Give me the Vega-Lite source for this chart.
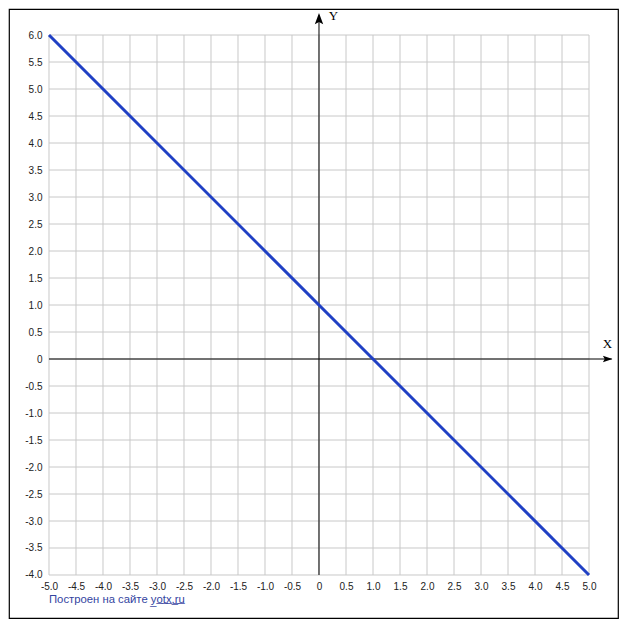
{
  "$schema": "https://vega.github.io/schema/vega-lite/v6.json",
  "width": 609,
  "height": 609,
  "autosize": {"type": "none"},
  "padding": {"left": 9, "top": 9, "right": 9, "bottom": 12},
  "background": "white",
  "config": {
    "view": {"stroke": "black", "strokeWidth": 1.2},
    "axis": {"labelFont": "Liberation Sans", "labelFontSize": 10, "labelColor": "#222222", "domain": false, "ticks": false, "grid": false, "title": null, "labelOverlap": false, "labelFlush": false}
  },
  "title": {
    "text": "Построен на сайте y̲o̲t̲x̲.̲r̲u̲",
    "orient": "bottom",
    "anchor": "start",
    "frame": "group",
    "offset": -24,
    "dx": 40,
    "font": "Liberation Sans",
    "fontSize": 11.3,
    "fontWeight": "normal",
    "color": "#33449f"
  },
  "datasets": {
    "xgrid": [{"v": -5}, {"v": -4.5}, {"v": -4}, {"v": -3.5}, {"v": -3}, {"v": -2.5}, {"v": -2}, {"v": -1.5}, {"v": -1}, {"v": -0.5}, {"v": 0}, {"v": 0.5}, {"v": 1}, {"v": 1.5}, {"v": 2}, {"v": 2.5}, {"v": 3}, {"v": 3.5}, {"v": 4}, {"v": 4.5}, {"v": 5}],
    "ygrid": [{"v": -4}, {"v": -3.5}, {"v": -3}, {"v": -2.5}, {"v": -2}, {"v": -1.5}, {"v": -1}, {"v": -0.5}, {"v": 0}, {"v": 0.5}, {"v": 1}, {"v": 1.5}, {"v": 2}, {"v": 2.5}, {"v": 3}, {"v": 3.5}, {"v": 4}, {"v": 4.5}, {"v": 5}, {"v": 5.5}, {"v": 6}],
    "line": [{"x": -5, "y": 6}, {"x": 5, "y": -4}],
    "axislabels": [{"x": 0.269, "y": 6.352, "t": "Y"}, {"x": 5.343, "y": 0.269, "t": "X"}],
    "one": [{}]
  },
  "encoding": {
    "x": {"type": "quantitative", "scale": {"domain": [-5.7407, 5.537], "nice": false, "zero": false},
      "axis": {"orient": "bottom", "offset": -43, "labelPadding": 6, "labelOverlap": false, "values": [-5, -4.5, -4, -3.5, -3, -2.5, -2, -1.5, -1, -0.5, 0, 0.5, 1, 1.5, 2, 2.5, 3, 3.5, 4, 4.5, 5], "labelExpr": "datum.value == 0 ? '0' : (datum.value < 0 ? '-' + format(-datum.value, '.1f') : format(datum.value, '.1f'))"}},
    "y": {"type": "quantitative", "scale": {"domain": [-4.7963, 6.4815], "nice": false, "zero": false},
      "axis": {"orient": "left", "offset": -40, "labelPadding": 7, "labelOverlap": false, "labelBaseline": "middle", "values": [-4, -3.5, -3, -2.5, -2, -1.5, -1, -0.5, 0, 0.5, 1, 1.5, 2, 2.5, 3, 3.5, 4, 4.5, 5, 5.5, 6], "labelExpr": "datum.value == 0 ? '0' : (datum.value < 0 ? '-' + format(-datum.value, '.1f') : format(datum.value, '.1f'))"}}
  },
  "layer": [
    {
      "data": {"name": "xgrid"},
      "mark": {"type": "rule", "color": "#c8c8c8", "strokeWidth": 1},
      "encoding": {
        "x": {"field": "v", "type": "quantitative"},
        "y": {"datum": -4, "type": "quantitative"},
        "y2": {"datum": 6}
      }
    },
    {
      "data": {"name": "ygrid"},
      "mark": {"type": "rule", "color": "#c8c8c8", "strokeWidth": 1},
      "encoding": {
        "y": {"field": "v", "type": "quantitative"},
        "x": {"datum": -5, "type": "quantitative"},
        "x2": {"datum": 5}
      }
    },
    {
      "data": {"name": "one"},
      "mark": {"type": "rule", "color": "black", "strokeWidth": 1},
      "encoding": {
        "y": {"datum": 0, "type": "quantitative"},
        "x": {"datum": -5, "type": "quantitative"},
        "x2": {"datum": 5.42}
      }
    },
    {
      "data": {"name": "one"},
      "mark": {"type": "rule", "color": "black", "strokeWidth": 1},
      "encoding": {
        "x": {"datum": 0, "type": "quantitative"},
        "y": {"datum": -4, "type": "quantitative"},
        "y2": {"datum": 6.36}
      }
    },
    {
      "data": {"name": "one"},
      "mark": {"type": "point", "shape": "M0,-1L0.6,0.6L0,0.3L-0.6,0.6Z", "filled": true, "color": "black", "opacity": 1, "size": 196, "strokeWidth": 0},
      "encoding": {
        "x": {"datum": 0, "type": "quantitative"},
        "y": {"datum": 6.278, "type": "quantitative"}
      }
    },
    {
      "data": {"name": "one"},
      "mark": {"type": "point", "shape": "M1,0L-0.6,0.55L-0.3,0L-0.6,-0.55Z", "filled": true, "color": "black", "opacity": 1, "size": 144, "strokeWidth": 0},
      "encoding": {
        "x": {"datum": 5.324, "type": "quantitative"},
        "y": {"datum": 0, "type": "quantitative"}
      }
    },
    {
      "data": {"name": "line"},
      "mark": {"type": "line", "color": "#2040c4", "strokeWidth": 3},
      "encoding": {
        "x": {"field": "x", "type": "quantitative"},
        "y": {"field": "y", "type": "quantitative"}
      }
    },
    {
      "data": {"name": "axislabels"},
      "mark": {"type": "text", "font": "Liberation Serif", "fontSize": 13, "color": "black", "align": "center", "baseline": "middle"},
      "encoding": {
        "x": {"field": "x", "type": "quantitative"},
        "y": {"field": "y", "type": "quantitative"},
        "text": {"field": "t"}
      }
    }
  ]
}
